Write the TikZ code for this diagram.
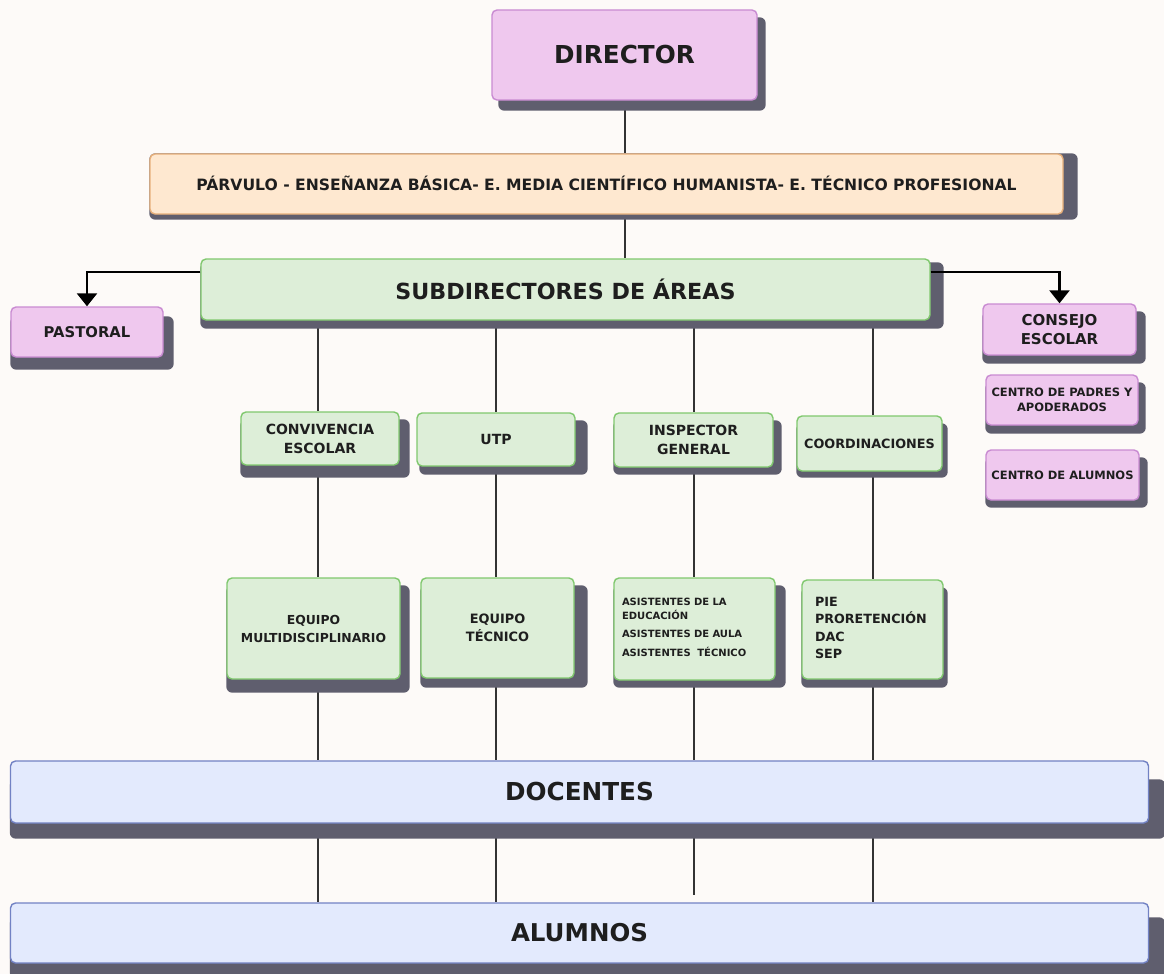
\documentclass[tikz,border=0pt]{standalone}
\usepackage{fontspec}
\setmainfont{DejaVu Sans}
\usepackage{tikz}
\usetikzlibrary{arrows.meta, positioning, calc, backgrounds}
\usepackage{xcolor}
\definecolor{bgc}{HTML}{FDFAF8}
\definecolor{shadowc}{HTML}{5F5E6E}
\definecolor{pinkf}{HTML}{EFC8EE}
\definecolor{pinkd}{HTML}{C98BD2}
\definecolor{peachf}{HTML}{FEE8D0}
\definecolor{peachd}{HTML}{E8B07A}
\definecolor{greenf}{HTML}{DDEED8}
\definecolor{greend}{HTML}{80C86E}
\definecolor{bluef}{HTML}{E3EAFD}
\definecolor{blued}{HTML}{7282C4}
\definecolor{linec}{HTML}{333333}
\definecolor{txt}{HTML}{1E1E1E}
\newcommand{\fsz}[2]{\bfseries\fontsize{#1}{#2}\selectfont}

\begin{document}
\begin{tikzpicture}[
  x=1pt, y=-1pt,
  box/.style={draw, rounded corners=5pt, line width=1.4pt, inner sep=0pt,
              align=center, text=txt},
  pinkbox/.style={box, fill=pinkf, draw=pinkd},
  peachbox/.style={box, fill=peachf, draw=peachd},
  greenbox/.style={box, fill=greenf, draw=greend},
  bluebox/.style={box, fill=bluef, draw=blued},
  link/.style={line width=2pt, draw=linec},
  arrow/.style={-{Triangle[width=20pt,length=13pt]}, line width=2.5pt}
]
  \useasboundingbox (0,0) rectangle (1164,974);

  % Top of the chart
  \node[pinkbox, minimum width=265pt, minimum height=90pt, font=\fsz{24.7}{29}] (dir) at (624.5,55) {DIRECTOR};
  \node[peachbox, minimum width=913pt, minimum height=60pt, font=\fsz{15.6}{18}] (niv) at (606.5,184)
    {\raisebox{2pt}{PÁRVULO - ENSEÑANZA BÁSICA- E. MEDIA CIENTÍFICO HUMANISTA- E. TÉCNICO PROFESIONAL}};
  \node[greenbox, minimum width=729pt, minimum height=61pt, font=\fsz{22.2}{26}] (sub) at (565.5,289.5) {\raisebox{1.5pt}{SUBDIRECTORES DE ÁREAS}};

  % Side boxes
  \node[pinkbox, minimum width=152pt, minimum height=50pt, font=\fsz{14.8}{17}] (pas) at (87,332) {PASTORAL};
  \node[pinkbox, minimum width=153pt, minimum height=51pt, font=\fsz{15}{19}] (cons) at (1059.5,329.5) {CONSEJO\\ESCOLAR};
  \node[pinkbox, minimum width=152pt, minimum height=50pt, font=\fsz{11.5}{15}] (cpad) at (1062,400) {CENTRO DE PADRES Y\\APODERADOS};
  \node[pinkbox, minimum width=153pt, minimum height=50pt, font=\fsz{11.5}{15}] (calu) at (1062.5,475) {CENTRO DE ALUMNOS};

  % Areas
  \node[greenbox, minimum width=158pt, minimum height=53pt, font=\fsz{14}{19}] (conv) at (320,438.5) {CONVIVENCIA\\ESCOLAR};
  \node[greenbox, minimum width=158pt, minimum height=53pt, font=\fsz{14}{19}] (utp) at (496,439.5) {UTP};
  \node[greenbox, minimum width=159pt, minimum height=54pt, font=\fsz{14}{19}] (insp) at (693.5,440) {INSPECTOR\\GENERAL};
  \node[greenbox, minimum width=145pt, minimum height=55pt, font=\fsz{12.8}{16}] (coord) at (869.5,443.5) {COORDINACIONES};

  % Teams
  \node[greenbox, minimum width=173pt, minimum height=101pt, font=\fsz{12.4}{18}] (eqm) at (313.5,628.5) {EQUIPO\\MULTIDISCIPLINARIO};
  \node[greenbox, minimum width=153pt, minimum height=100pt, font=\fsz{12.9}{18}] (eqt) at (497.5,628) {EQUIPO\\TÉCNICO};
  \node[greenbox, minimum width=161pt, minimum height=102pt, font=\fsz{10}{14}] (asis) at (694.5,629) {};
  \node[text=txt, text width=145pt, align=left, font=\fsz{10}{14}] (asistxt) at (694.5,627)
    {ASISTENTES DE LA\\EDUCACIÓN\\[4pt]ASISTENTES DE AULA\\[5pt]ASISTENTES\ \ TÉCNICO};
  \node[greenbox, minimum width=141pt, minimum height=99pt, font=\fsz{12.7}{17}] (pie) at (872.5,629.5) {};
  \node[text=txt, text width=115pt, align=left, font=\fsz{12.7}{17.3}] (pietxt) at (872.5,628)
    {PIE\\PRORETENCIÓN\\DAC\\SEP};

  % Bottom bars
  \node[bluebox, minimum width=1138pt, minimum height=62pt, font=\fsz{24.7}{29}] (doc) at (579.5,792) {\raisebox{2pt}{DOCENTES}};
  \node[bluebox, minimum width=1138pt, minimum height=60pt, font=\fsz{24.5}{29}] (alu) at (579.5,933) {ALUMNOS};

  % Column positions
  \coordinate (k1) at (318,0);
  \coordinate (k2) at (496,0);
  \coordinate (k3) at (694,0);
  \coordinate (k4) at (873,0);
  \coordinate (k3end) at (694,895);

  \begin{scope}[on background layer]
    \fill[bgc] (0,0) rectangle (1164,974);
    % Lines
    \draw[link] (dir.south) -- (dir.south |- niv.north);
    \draw[link] (dir.south |- niv.south) -- (dir.south |- sub.north);
    \foreach \k/\a/\b/\e in {k1/conv/eqm/alu.north, k2/utp/eqt/alu.north,
                             k3/insp/asis/k3end, k4/coord/pie/alu.north} {
      \draw[link] (sub.south -| \k) -- (\a.north -| \k);
      \draw[link] (\a.south -| \k) -- (\b.north -| \k);
      \draw[link] (\b.south -| \k) -- (doc.north -| \k);
      \draw[link] (doc.south -| \k) -- (\e -| \k);
    }
    % Shadows
    \foreach \n/\sx/\sy/\dx/\dy in {dir/7/8/8/10, niv/0/0/14/5, sub/0/4/13/8,
        pas/0/10/10/12, cons/0/8/9/8, cpad/0/8/7/8, calu/0/8/8/7,
        conv/0/8/10/12, utp/3/8/12/8, insp/0/8/8/7, coord/0/8/5/6,
        eqm/0/8/9/13, eqt/0/8/13/9, asis/0/8/10/7, pie/0/8/4/8,
        doc/0/19/16/15, alu/0/15/16/15} {
      \fill[shadowc, rounded corners=6pt] ($(\n.north west)+(\sx,\sy)$) rectangle ($(\n.south east)+(\dx,\dy)$);
    }
  \end{scope}

  % Arrows
  \draw[arrow] ([yshift=17.5pt]sub.west) -| (pas.north);
  \draw[arrow] ([yshift=17.5pt]sub.east) -| (cons.north);
\end{tikzpicture}
\end{document}
